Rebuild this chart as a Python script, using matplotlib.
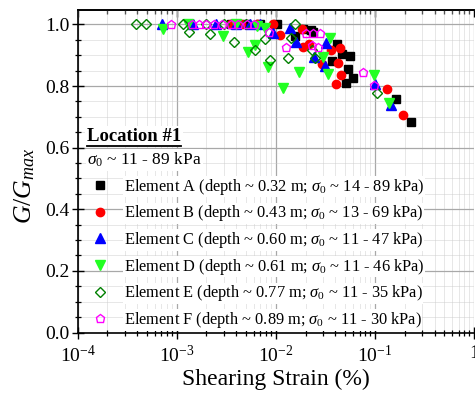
import math
import matplotlib
matplotlib.use("Agg")
import matplotlib.pyplot as plt
from matplotlib.ticker import LogLocator, MultipleLocator, FixedLocator, NullFormatter, FuncFormatter
from matplotlib.lines import Line2D

plt.rcParams['font.family'] = ['Liberation Serif', 'DejaVu Serif']
plt.rcParams['mathtext.fontset'] = 'custom'
plt.rcParams['mathtext.rm'] = 'Liberation Serif'
plt.rcParams['mathtext.it'] = 'Liberation Serif:italic'
plt.rcParams['mathtext.bf'] = 'Liberation Serif:bold'

# ---------------- data ----------------
A_x = [0.0035, 0.005, 0.007, 0.0103, 0.0155, 0.0187, 0.0229, 0.0236, 0.0368, 0.0413,
       0.0464, 0.0558, 0.0533, 0.0599, 0.0509, 0.162, 0.229]
A_y = [1.0, 1.0, 1.0, 1.0, 0.963, 0.986, 0.981, 0.976, 0.881, 0.937,
       0.904, 0.898, 0.856, 0.826, 0.81, 0.758, 0.683]

B_x = [0.0035, 0.0045, 0.0065, 0.0093, 0.011, 0.0185, 0.0188, 0.0218, 0.029, 0.0365,
       0.0445, 0.0420, 0.046, 0.0402, 0.133, 0.192]
B_y = [1.0, 1.0, 1.0, 1.0, 0.966, 0.985, 0.926, 0.936, 0.873, 0.916,
       0.924, 0.874, 0.836, 0.808, 0.791, 0.707]

C_x = [0.00071, 0.00146, 0.0025, 0.004, 0.0055, 0.0069, 0.0093, 0.014, 0.016, 0.0245,
       0.0315, 0.0325, 0.101, 0.147]
C_y = [1.0, 1.0, 1.0, 1.0, 1.0, 1.0, 0.972, 0.99, 0.942, 0.895,
       0.866, 0.941, 0.807, 0.739]

D_x = [0.00073, 0.0013, 0.00296, 0.004, 0.00615, 0.00527, 0.0084, 0.0064, 0.0078, 0.0119,
       0.0170, 0.0351, 0.030, 0.0338, 0.0988, 0.138]
D_y = [0.985, 1.0, 0.964, 1.0, 0.934, 0.911, 0.862, 0.995, 0.99, 0.795,
       0.845, 0.955, 0.894, 0.84, 0.837, 0.744]

E_x = [0.00039, 0.00049, 0.00117, 0.00134, 0.002, 0.00217, 0.003, 0.00381, 0.005, 0.00615,
       0.00777, 0.0087, 0.0132, 0.0144, 0.0155, 0.0233, 0.0249, 0.105]
E_y = [1.0, 1.0, 1.0, 0.977, 1.0, 0.968, 1.0, 0.942, 1.0, 0.918,
       0.954, 0.884, 0.89, 0.955, 1.0, 0.917, 0.89, 0.777]

F_x = [0.00087, 0.00142, 0.0017, 0.002, 0.0024, 0.0029, 0.0035, 0.0042, 0.0051, 0.0061,
       0.0085, 0.0126, 0.0204, 0.0238, 0.0279, 0.0232, 0.0267, 0.076, 0.099]
F_y = [1.0, 1.0, 1.0, 1.0, 1.0, 1.0, 1.0, 1.0, 1.0, 1.0,
       0.974, 0.926, 0.973, 0.973, 0.973, 0.933, 0.928, 0.845, 0.804]

labels = [
    r'Element A (depth ~ 0.32 m; $\sigma_0$ ~ 14 - 89 kPa)',
    r'Element B (depth ~ 0.43 m; $\sigma_0$ ~ 13 - 69 kPa)',
    r'Element C (depth ~ 0.60 m; $\sigma_0$ ~ 11 - 47 kPa)',
    r'Element D (depth ~ 0.61 m; $\sigma_0$ ~ 11 - 46 kPa)',
    r'Element E (depth ~ 0.77 m; $\sigma_0$ ~ 11 - 35 kPa)',
    r'Element F (depth ~ 0.89 m; $\sigma_0$ ~ 11 - 30 kPa)',
]
y_ticks = [0.0, 0.2, 0.4, 0.6, 0.8, 1.0]
x_ticks = [1e-4, 1e-3, 1e-2, 1e-1, 1e0]

# ---------------- figure ----------------
fig = plt.figure(figsize=(4.75, 3.97), dpi=100)
ax = fig.add_axes([77.5 / 475, 1 - 332.5 / 397, (474 - 77.5) / 475, (332.5 - 10) / 397])

styles = [
    dict(marker='s', color='black', ms=5.4, mfc='black', mec='black'),
    dict(marker='o', color='#ff0000', ms=6.0, mfc='#ff0000', mec='#ff0000'),
    dict(marker='^', color='#0000ff', ms=7.0, mfc='#0000ff', mec='#0000ff'),
    dict(marker='v', color='#22ff22', ms=7.0, mfc='#22ff22', mec='#22ff22'),
    dict(marker='D', color='#008000', ms=5.0, mfc='none', mec='#008000', mew=1.0),
    dict(marker='p', color='#ff00ff', ms=6.4, mfc='none', mec='#ff00ff', mew=1.0),
]
series = [(A_x, A_y), (B_x, B_y), (C_x, C_y), (D_x, D_y), (E_x, E_y), (F_x, F_y)]
handles = []
for (xs, ys), st, lab in zip(series, styles, labels):
    h, = ax.plot(xs, ys, linestyle='none', label=lab, zorder=3, **st)
    handles.append(h)

ax.set_xscale('log')
ax.set_xlim(1e-4, 1e0)
ax.set_ylim(0, 1.047)

ax.xaxis.set_major_locator(FixedLocator(x_ticks))
ax.xaxis.set_minor_locator(LogLocator(base=10, subs=[2, 3, 4, 5, 6, 7, 8, 9], numticks=20))
ax.xaxis.set_minor_formatter(NullFormatter())


def xfmt(v, pos):
    e = int(round(math.log10(v)))
    if e == 0:
        return '1'
    return r'$\mathregular{10^{%d}}$' % e


ax.xaxis.set_major_formatter(FuncFormatter(xfmt))
ax.yaxis.set_major_locator(FixedLocator(y_ticks))
ax.yaxis.set_minor_locator(MultipleLocator(0.05))
ax.yaxis.set_major_formatter(FuncFormatter(lambda v, p: '%.1f' % v))

ax.grid(True, which='major', color='#a8a8a8', linewidth=0.9, linestyle='-', zorder=0)
ax.grid(True, which='minor', color='#c8c8c8', linewidth=0.6, linestyle=(0, (1.2, 1.2)), zorder=0)
ax.set_axisbelow(True)

for s in ['left', 'bottom', 'top']:
    ax.spines[s].set_linewidth(1.2)
ax.spines['right'].set_visible(False)

ax.tick_params(axis='both', which='major', direction='inout', length=8, width=1.0,
               labelsize=14, pad=2)
ax.tick_params(axis='both', which='minor', direction='inout', length=4.5, width=0.9)
ax.tick_params(axis='x', which='major', pad=5)

top = ax.secondary_xaxis('top')
top.xaxis.set_major_locator(FixedLocator(x_ticks))
top.xaxis.set_minor_locator(LogLocator(base=10, subs=[2, 3, 4, 5, 6, 7, 8, 9], numticks=20))
top.xaxis.set_major_formatter(NullFormatter())
top.xaxis.set_minor_formatter(NullFormatter())
top.tick_params(which='major', direction='in', length=5, width=1.0)
top.tick_params(which='minor', direction='in', length=3, width=0.9)
top.spines['top'].set_linewidth(1.2)

ax.set_xlabel('Shearing Strain (%)', fontsize=17, labelpad=2)
ax.set_ylabel(r'$G/G_{max}$', fontsize=18.5)
ax.yaxis.set_label_coords(-0.102, 0.456)

# Location annotations
loc_txt = ax.text(0.024, 0.609, 'Location #1', transform=ax.transAxes, fontsize=13.5,
                  fontweight='bold', va='center', ha='left', zorder=5,
                  bbox=dict(facecolor='white', edgecolor='none', pad=1.5))
ax.text(0.024, 0.535, r'$\sigma_0$ ~ 11 - 89 kPa', transform=ax.transAxes, fontsize=12.5,
        va='center', ha='left', zorder=5,
        bbox=dict(facecolor='white', edgecolor='none', pad=1))

leg = ax.legend(handles=handles, loc='upper left', bbox_to_anchor=(0.0376, 0.483),
                frameon=False, fontsize=11.8, numpoints=1, handlelength=0.95,
                handletextpad=0.95, labelspacing=0.405, borderpad=0, borderaxespad=0)
leg.set_zorder(6)
for t in leg.get_texts():
    t.set_bbox(dict(facecolor='white', edgecolor='none', pad=0.5))

# underline for "Location #1"
fig.canvas.draw()
bb = loc_txt.get_window_extent()
inv = fig.transFigure.inverted()
(x0, y0) = inv.transform((bb.x0, bb.y0 - 1))
(x1, _) = inv.transform((bb.x1, bb.y0 - 1))
fig.add_artist(Line2D([x0, x1], [y0, y0], color='black', linewidth=1.3,
                      transform=fig.transFigure, zorder=10))

fig.savefig('out.png', dpi=100)
